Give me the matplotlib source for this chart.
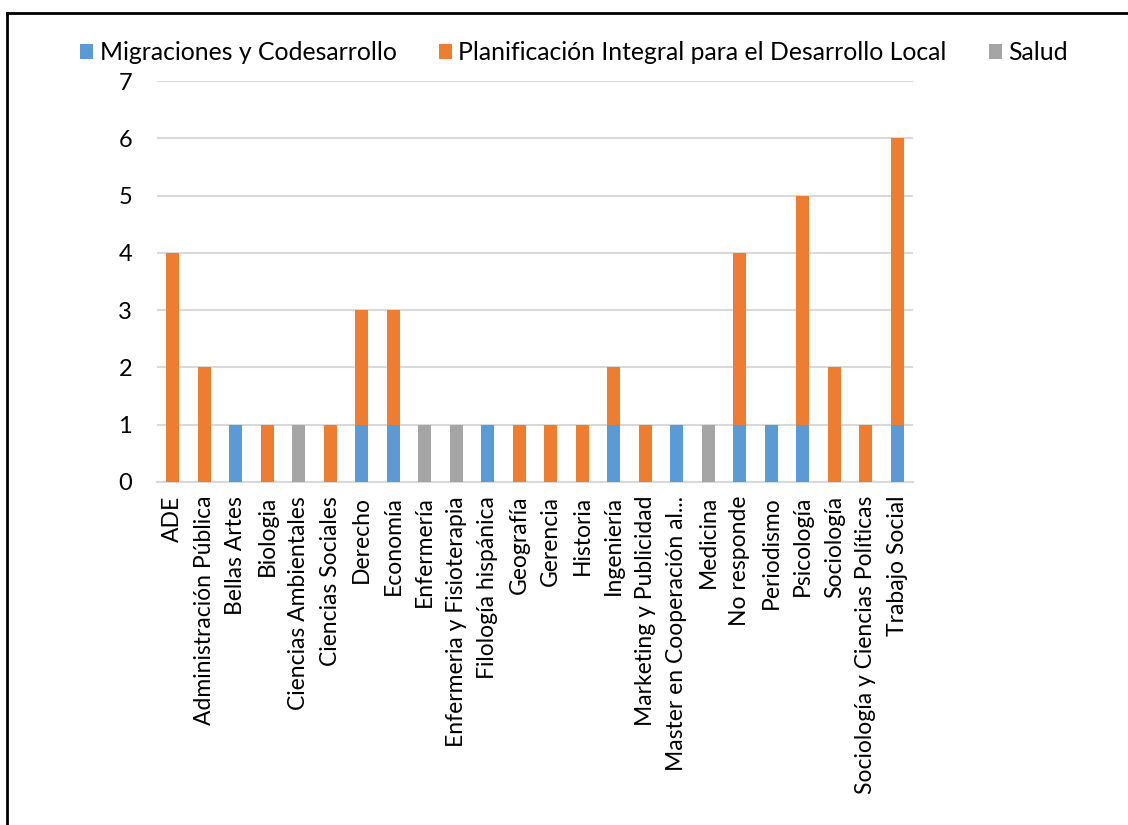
import numpy as np
import matplotlib
matplotlib.use("Agg")
import matplotlib.pyplot as plt
from matplotlib.lines import Line2D

plt.rcParams['font.family'] = ['Lato', 'DejaVu Sans']

categories = ["ADE", "Administración Pública", "Bellas Artes", "Biologia",
              "Ciencias Ambientales", "Ciencias Sociales", "Derecho", "Economía",
              "Enfermería", "Enfermeria y Fisioterapia", "Filología hispánica",
              "Geografía", "Gerencia", "Historia", "Ingeniería",
              "Marketing y Publicidad", "Master en Cooperación al...", "Medicina",
              "No responde", "Periodismo", "Psicología", "Sociología",
              "Sociología y Ciencias Políticas", "Trabajo Social"]
migraciones = [0, 0, 1, 0, 0, 0, 1, 1, 0, 0, 1, 0, 0, 0, 1, 0, 1, 0, 1, 1, 1, 0, 0, 1]
planificacion = [4, 2, 0, 1, 0, 1, 2, 2, 0, 0, 0, 1, 1, 1, 1, 1, 0, 0, 3, 0, 4, 2, 1, 5]
salud = [0, 0, 0, 0, 1, 0, 0, 0, 1, 1, 0, 0, 0, 0, 0, 0, 0, 1, 0, 0, 0, 0, 0, 0]

c_m = "#5b9bd5"
c_p = "#ed7d31"
c_s = "#a5a5a5"

fig = plt.figure(figsize=(11.28, 8.25), dpi=100)
ax = fig.add_axes([157 / 1128, 1 - 482 / 825, (913 - 157) / 1128, (482 - 81) / 825])

x = np.arange(len(categories))
m = np.array(migraciones)
p = np.array(planificacion)
s = np.array(salud)
w = 0.4
ax.bar(x, m, w, color=c_m, label="Migraciones y Codesarrollo", zorder=3)
ax.bar(x, p, w, bottom=m, color=c_p, label="Planificación Integral para el Desarrollo Local", zorder=3)
ax.bar(x, s, w, bottom=m + p, color=c_s, label="Salud", zorder=3)

ax.set_xlim(-0.5, len(categories) - 0.5)
ax.set_ylim(0, 7)
ax.set_yticks(range(8))
ax.yaxis.grid(True, color="#d9d9d9", linewidth=1.5, zorder=0)
for sp in ["top", "right", "left"]:
    ax.spines[sp].set_visible(False)
ax.spines["bottom"].set_color("#d9d9d9")
ax.spines["bottom"].set_linewidth(1.5)
ax.tick_params(axis="both", length=0, labelsize=17)
ax.tick_params(axis="y", pad=18)
ax.tick_params(axis="x", pad=10)
ax.set_xticks(x)
ax.set_xticklabels(categories, rotation=90, fontsize=16.5)

ax.legend(loc="center", bbox_to_anchor=(574 / 1128, 1 - 53 / 825), bbox_transform=fig.transFigure,
          ncol=3, frameon=False, fontsize=17.8, handlelength=0.55, handleheight=0.55,
          handletextpad=0.25, columnspacing=1.7)

fig.add_artist(Line2D([7 / 1128, 7 / 1128], [0, 1 - 13 / 825], transform=fig.transFigure, color="black", linewidth=2))
fig.add_artist(Line2D([7 / 1128, 1], [1 - 13 / 825, 1 - 13 / 825], transform=fig.transFigure, color="black", linewidth=2))

fig.savefig("out.png", dpi=100)
